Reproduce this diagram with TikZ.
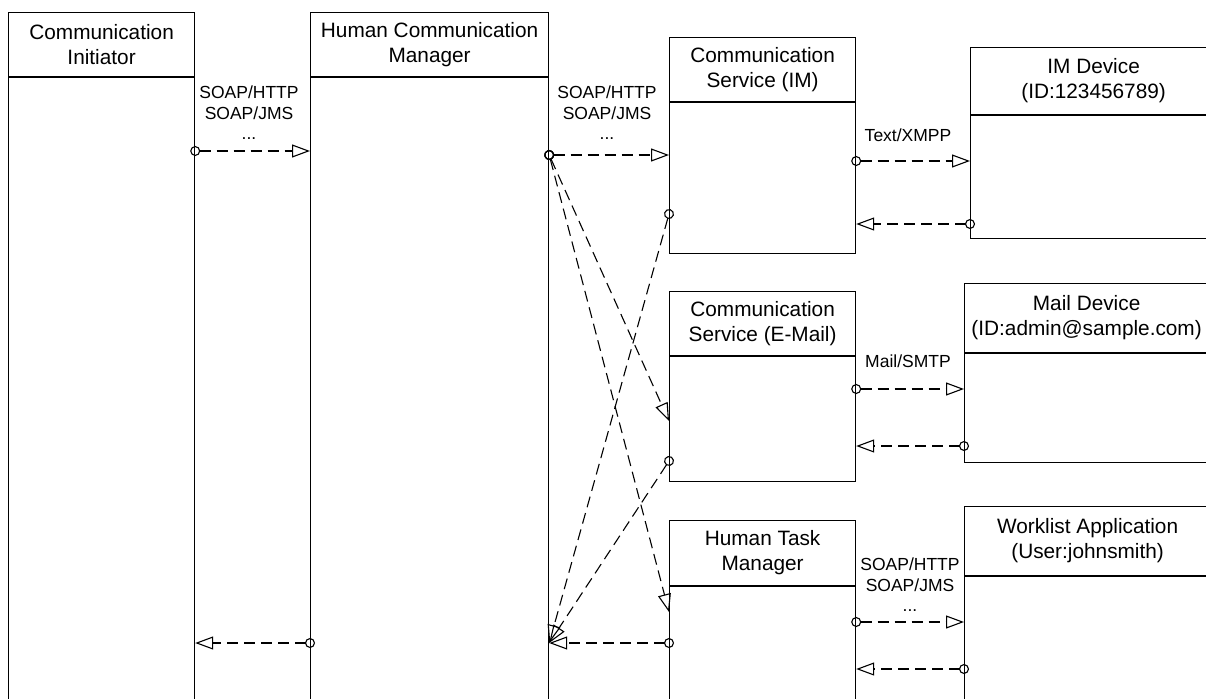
\documentclass[tikz,border=0pt]{standalone}
\usepackage{fontspec}
\setmainfont{Liberation Sans}
\usetikzlibrary{arrows.meta}
\newcommand\hdrfont{\fontsize{20.8}{25}\selectfont}
\newcommand\lblfont{\fontsize{17.5}{20.5}\selectfont}
\tikzset{
  box/.style={draw=black, line width=1.2pt, inner sep=0pt, align=center, font=\hdrfont},
  msg/.style={draw=black, line width=1.1pt, dash pattern=on 11pt off 6pt, shorten <=-5pt,
    {Circle[open,length=10pt,width=10pt,line width=1.1pt]}-{Triangle[open,length=18pt,width=13pt,line width=1.1pt]}},
  lbl/.style={font=\lblfont, align=center, inner sep=0pt}
}
\begin{document}
\begin{tikzpicture}[x=1pt,y=-1pt]
\useasboundingbox (0,0) rectangle (1206,698);
\clip (0,0) rectangle (1206,698);
% lifelines
\node[box, minimum width=186pt, minimum height=64pt, anchor=north west] (b1h) at (8,12) {Communication\\Initiator};
\node[box, minimum width=186pt, minimum height=634pt, anchor=north] (b1) at (b1h.south) {};
\node[box, minimum width=238pt, minimum height=64pt, anchor=north west] (b2h) at (310,12) {Human Communication\\Manager};
\node[box, minimum width=238pt, minimum height=634pt, anchor=north] (b2) at (b2h.south) {};
\node[box, minimum width=186pt, minimum height=64pt, anchor=north west] (b3h) at (669,37) {Communication\\Service (IM)};
\node[box, minimum width=186pt, minimum height=151pt, anchor=north] (b3) at (b3h.south) {};
\node[box, minimum width=246pt, minimum height=67pt, anchor=north west] (b4h) at (970,47) {IM Device\\(ID:123456789)};
\node[box, minimum width=246pt, minimum height=123pt, anchor=north] (b4) at (b4h.south) {};
\node[box, minimum width=186pt, minimum height=64pt, anchor=north west] (b5h) at (669,291) {Communication\\Service (E-Mail)};
\node[box, minimum width=186pt, minimum height=125pt, anchor=north] (b5) at (b5h.south) {};
\node[box, minimum width=244pt, minimum height=69pt, anchor=north west] (b6h) at (964,283) {Mail Device\\(ID:admin@sample.com)};
\node[box, minimum width=244pt, minimum height=109pt, anchor=north] (b6) at (b6h.south) {};
\node[box, minimum width=186pt, minimum height=65pt, anchor=north west] (b7h) at (669,520) {Human Task\\Manager};
\node[box, minimum width=186pt, minimum height=125pt, anchor=north] (b7) at (b7h.south) {};
\node[box, minimum width=246pt, minimum height=69pt, anchor=north west] (b8h) at (964,506) {Worklist Application\\(User:johnsmith)};
\node[box, minimum width=246pt, minimum height=135pt, anchor=north] (b8) at (b8h.south) {};
% labels
\node[lbl] (l1) at (249,113) {SOAP/HTTP\\SOAP/JMS\\...};
\node[lbl] (l2) at (607,113) {SOAP/HTTP\\SOAP/JMS\\...};
\node[lbl] (l3) at (908,135) {Text/XMPP};
\node[lbl] (l4) at (908,361) {Mail/SMTP};
\node[lbl] (l5) at (910,585) {SOAP/HTTP\\SOAP/JMS\\...};
% connector ends
\coordinate (a1s) at (b1.east |- 0,151);
\coordinate (a1e) at (b2.west |- 0,151);
\coordinate (a2s) at (b2.east |- 0,155);
\coordinate (a2e) at (b3.west |- 0,155);
\coordinate (a3s) at (b3.east |- 0,161);
\coordinate (a3e) at (b4.west |- 0,161);
\coordinate (a4s) at (b4.west |- 0,224);
\coordinate (a4e) at (b3.east |- 0,224);
\coordinate (a5s) at (b5.east |- 0,389);
\coordinate (a5e) at (b6.west |- 0,389);
\coordinate (a6s) at (b6.west |- 0,446);
\coordinate (a6e) at (b5.east |- 0,446);
\coordinate (a7s) at (b7.east |- 0,622);
\coordinate (a7e) at (b8.west |- 0,622);
\coordinate (a8s) at (b8.west |- 0,669);
\coordinate (a8e) at (b7.east |- 0,669);
\coordinate (a9s) at (b7.west |- 0,643);
\coordinate (a9e) at (b2.east |- 0,643);
\coordinate (a10s) at (b2.west |- 0,643);
\coordinate (a10e) at (b1.east |- 0,643);
\coordinate (d1e) at (b5.west |- 0,421);
\coordinate (d2e) at (b7.west |- 0,612);
\coordinate (d3s) at (b3.west |- 0,214);
\coordinate (d4s) at (b5.west |- 0,461);
% connectors
\draw[msg] (a1s) -- (a1e);
\draw[msg] (a2s) -- (a2e);
\draw[msg] (a3s) -- (a3e);
\draw[msg] (a4s) -- (a4e);
\draw[msg] (a5s) -- (a5e);
\draw[msg] (a6s) -- (a6e);
\draw[msg] (a7s) -- (a7e);
\draw[msg] (a8s) -- (a8e);
\draw[msg] (a9s) -- (a9e);
\draw[msg] (a10s) -- (a10e);
\draw[msg] (a2s) -- (d1e);
\draw[msg] (a2s) -- (d2e);
\draw[msg] (d3s) -- (a9e);
\draw[msg] (d4s) -- (a9e);
\end{tikzpicture}
\end{document}
